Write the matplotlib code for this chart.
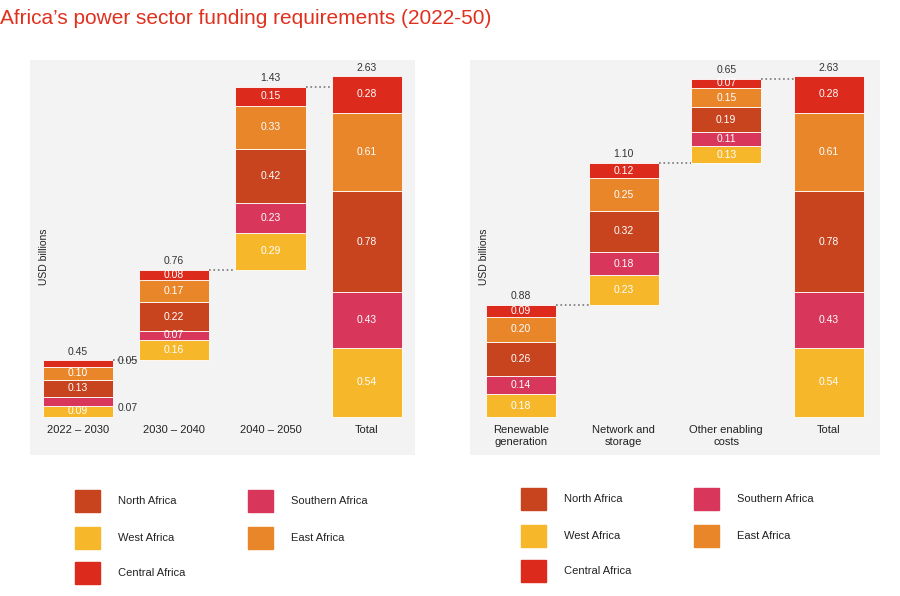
import numpy as np
import matplotlib.pyplot as plt
from matplotlib.patches import Rectangle

plt.rcParams['font.family'] = ['Liberation Sans', 'DejaVu Sans']

regions = ['West Africa', 'Southern Africa', 'North Africa', 'East Africa', 'Central Africa']
colors = ['#f6b72b', '#d8365a', '#c8441f', '#e9862a', '#dc2a1c']

left_cats = ['2022 – 2030', '2030 – 2040', '2040 – 2050', 'Total']
left_vals = [
    [0.09, 0.07, 0.13, 0.10, 0.05],
    [0.16, 0.07, 0.22, 0.17, 0.08],
    [0.29, 0.23, 0.42, 0.33, 0.15],
    [0.54, 0.43, 0.78, 0.61, 0.28],
]
left_tot = ['0.45', '0.76', '1.43', '2.63']

right_cats = ['Renewable\ngeneration', 'Network and\nstorage', 'Other enabling\ncosts', 'Total']
right_vals = [
    [0.18, 0.14, 0.26, 0.20, 0.09],
    [0.23, 0.18, 0.32, 0.25, 0.12],
    [0.13, 0.11, 0.19, 0.15, 0.07],
    [0.54, 0.43, 0.78, 0.61, 0.28],
]
right_tot = ['0.88', '1.10', '0.65', '2.63']

fig = plt.figure(figsize=(9, 5.96), dpi=100)
fig.text(0.0, 0.985, "Africa’s power sector funding requirements (2022-50)",
         color='#e0301e', fontsize=15, va='top', ha='left')


def waterfall(ax, cats, vals, tots, width, outside=()):
    ax.set_facecolor('#f3f3f3')
    for s in ax.spines.values():
        s.set_visible(False)
    ax.set_xticks([])
    ax.set_yticks([])
    ax.set_xlim(-0.5, 3.5)
    ax.set_ylim(-0.29, 2.77)
    base = 0
    tops = []
    for i, v in enumerate(vals):
        b = 0 if i == len(vals) - 1 else base
        start = b
        for j, x in enumerate(v):
            ax.bar(i, x, width, bottom=b, color=colors[j], edgecolor='white', linewidth=0.6)
            if (i, j) in outside:
                ax.text(i + width / 2 + 0.05, b + x / 2 + (0.02 if j == 4 else -0.05),
                        f'{x:.2f}', fontsize=7.5, color='#333333', va='center')
            else:
                ax.text(i, b + x / 2, f'{x:.2f}', fontsize=7.5, color='white',
                        ha='center', va='center')
            b += x
        top = b
        ax.text(i, top + 0.03, tots[i], ha='center', va='bottom', fontsize=7.5, color='#333333')
        tops.append(top)
        if i < len(vals) - 1:
            ax.plot([i + width / 2, i + 1 - width / 2], [top, top], ls=':', color='#777777', lw=1.2)
        base = top
        ax.text(i, -0.06, cats[i], ha='center', va='top', fontsize=8, color='#222222')
    ax.set_ylabel('USD billions', fontsize=7.5, color='#222222', labelpad=-14)


ax1 = fig.add_axes([0.033, 0.237, 0.428, 0.663])
waterfall(ax1, left_cats, left_vals, left_tot, 0.73, outside={(0, 1), (0, 4)})
ax2 = fig.add_axes([0.522, 0.237, 0.456, 0.663])
waterfall(ax2, right_cats, right_vals, right_tot, 0.68)


def legend(x1, x2, ys):
    items = [(x1, ys[0], 2), (x2, ys[0], 1), (x1, ys[1], 0), (x2, ys[1], 3), (x1, ys[2], 4)]
    for x, y, k in items:
        fig.patches.append(Rectangle((x / 900, 1 - (y + 11) / 596), 25 / 900, 22 / 596,
                                     transform=fig.transFigure, color=colors[k]))
        fig.text((x + 43) / 900, 1 - y / 596, regions[k], fontsize=8, va='center', color='#222222')


legend(75, 248, [501, 538, 573])
legend(521, 694, [499, 536, 571])

fig.savefig('out.png', dpi=100)
